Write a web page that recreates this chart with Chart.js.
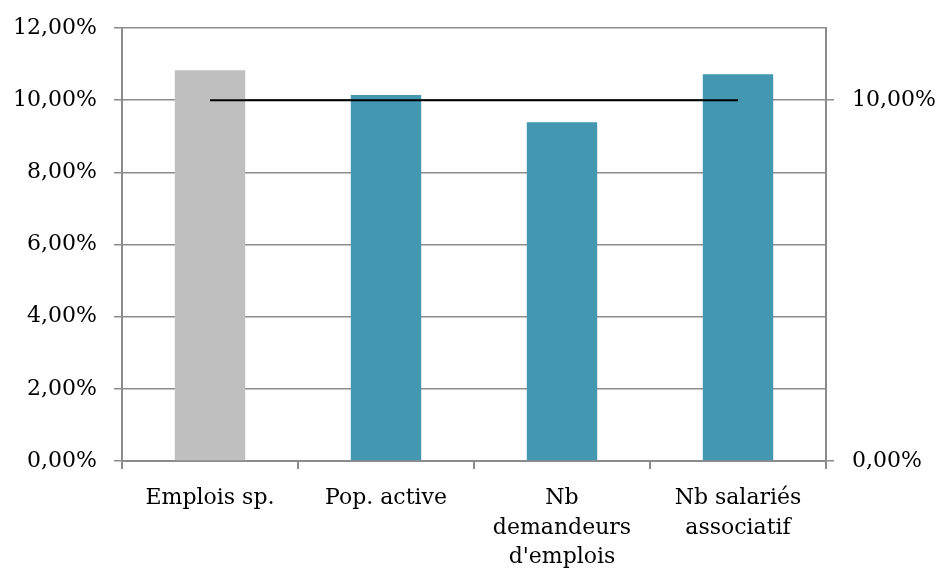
<!DOCTYPE html>
<html>
<head>
<meta charset="utf-8">
<script src="https://cdn.jsdelivr.net/npm/chart.js@4/dist/chart.umd.min.js"></script>
<style>
  html, body { margin: 0; padding: 0; background: #fff; }
  #wrap { width: 941px; height: 570px; }
</style>
</head>
<body>
<div id="wrap"><canvas id="mycanvas1" width="941" height="570"></canvas></div>
<script>
// categories and values (percent)
var categories = ['Emplois sp.', 'Pop. active', ['Nb', 'demandeurs', "d'emplois"], ['Nb salariés', 'associatif']];
var shares = [10.83, 10.14, 9.39, 10.72];
var reference = [10, 10, 10, 10];
var barColors = ['#BFBFBF', '#4397B0', '#4397B0', '#4397B0'];
var leftTicks = [0, 2, 4, 6, 8, 10, 12];
var rightTicks = [0, 10];

var gridGrey = '#8C8C8C';
var font = { family: 'DejaVu Serif', size: 22, lineHeight: 1.33 };

function pct(v) {
  return v.toFixed(2).replace('.', ',') + '%';
}

var ctx = document.getElementById('mycanvas1');
var chart = new Chart(ctx, {
  type: 'bar',
  data: {
    labels: categories,
    datasets: [
      {
        type: 'line',
        data: reference,
        borderColor: '#000',
        borderWidth: 2,
        pointRadius: 0,
        yAxisID: 'y',
        order: 0
      },
      {
        data: shares,
        backgroundColor: barColors,
        barPercentage: 0.4,
        categoryPercentage: 1,
        yAxisID: 'y',
        order: 1
      }
    ]
  },
  options: {
    responsive: false,
    animation: false,
    layout: { padding: { top: 28, right: 0, bottom: 0, left: 0 } },
    plugins: { legend: { display: false }, tooltip: { enabled: false } },
    scales: {
      x: {
        offset: true,
        grid: { offset: true, drawOnChartArea: false, color: gridGrey, tickLength: 8, lineWidth: 2 },
        border: { color: gridGrey, width: 2 },
        ticks: { color: '#000', font: font, maxRotation: 0, padding: 15 },
        afterFit: function(s) { s.height = 109; s.paddingLeft = 0; s.paddingRight = 0; }
      },
      y: {
        position: 'left',
        min: 0, max: 12,
        afterBuildTicks: function(s) { s.ticks = leftTicks.map(function(v){ return { value: v }; }); },
        grid: { color: gridGrey, tickLength: 8, lineWidth: 1.5 },
        border: { color: gridGrey, width: 2 },
        ticks: { color: '#000', font: font, padding: 17, callback: function(v) { return pct(v); } },
        afterFit: function(s) { s.width = 122; s.paddingTop = 0; s.paddingBottom = 0; }
      },
      y2: {
        position: 'right',
        min: 0, max: 12,
        afterBuildTicks: function(s) { s.ticks = rightTicks.map(function(v){ return { value: v }; }); },
        grid: { drawOnChartArea: false, color: gridGrey, tickLength: 8, lineWidth: 1.5 },
        border: { color: gridGrey, width: 2 },
        ticks: { color: '#000', font: font, padding: 18, callback: function(v) { return pct(v); } },
        afterFit: function(s) { s.width = 115; s.paddingTop = 0; s.paddingBottom = 0; }
      }
    }
  }
});
</script>
</body>
</html>
